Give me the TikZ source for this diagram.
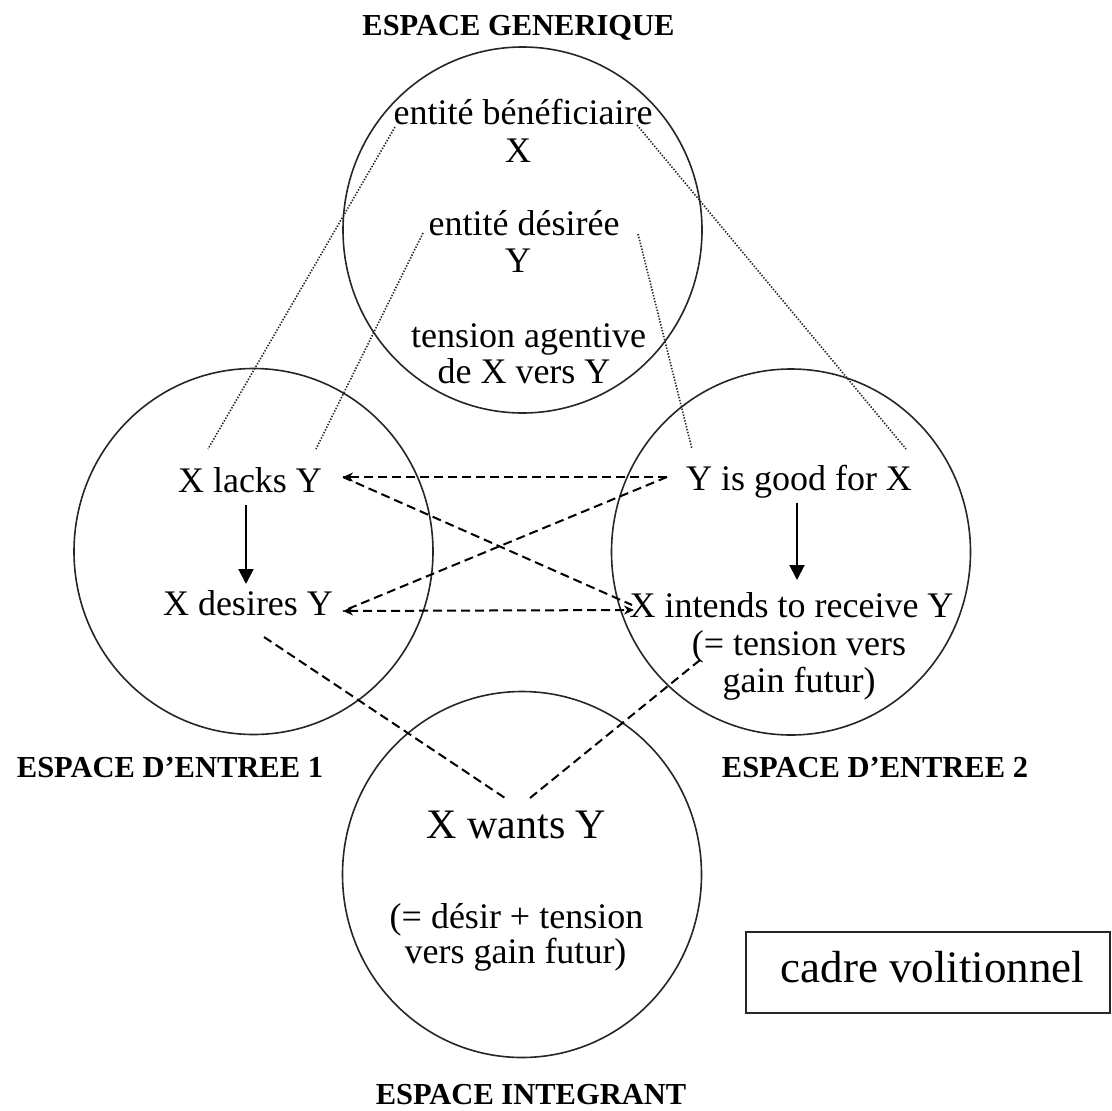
\documentclass[tikz,border=0pt]{standalone}
\usepackage{fontspec}
\setmainfont{Liberation Serif}
\usetikzlibrary{arrows.meta,shapes.geometric}
\begin{document}
\begin{tikzpicture}[x=1pt,y=-1pt,
  space/.style={draw=black!85,line width=1.6pt,ellipse,minimum width=359pt,minimum height=366pt,inner sep=0pt},
  lbl/.style={anchor=base,inner sep=0pt,font=\fontsize{36}{43}\selectfont},
  big/.style={anchor=base,inner sep=0pt,font=\fontsize{42}{50}\selectfont},
  ttl/.style={anchor=base,inner sep=0pt,font=\fontsize{30.5}{36}\selectfont\bfseries},
  dotl/.style={line width=1.6pt,dash pattern=on 1.4pt off 1.6pt,draw=black!85},
  dashl/.style={line width=2pt,dash pattern=on 9pt off 5pt},
  dtip/.style={-{Stealth[length=10pt,width=9pt]}},
  dtips/.style={{Stealth[length=10pt,width=9pt]}-{Stealth[length=10pt,width=9pt]}},
  solidarrow/.style={line width=2pt,-{Triangle[length=15pt,width=15pt]}}
]
\useasboundingbox (0,0) rectangle (1112,1111);

% spaces
\node[space] (gen) at (522.5,230) {};
\node[space] (in1) at (253.5,551.5) {};
\node[space] (in2) at (791,552) {};
\node[space] (blend) at (522,874.5) {};

% titles
\node[ttl] (tgen) at (518.5,35) {ESPACE GENERIQUE};
\node[ttl] (tin1) at (170,777) {ESPACE D’ENTREE 1};
\node[ttl] (tin2) at (875,777) {ESPACE D’ENTREE 2};
\node[ttl] (tbl) at (531,1104) {ESPACE INTEGRANT};

% generic space texts
\node[lbl] (benef) at (523,124) {entité bénéficiaire};
\node[lbl] (benefX) at (518,162) {X};
\node[lbl] (desir) at (524,235) {entité désirée};
\node[lbl] (desirY) at (518,272) {Y};
\node[lbl] (tens1) at (528.5,347) {tension agentive};
\node[lbl] (tens2) at (524,383) {de X vers Y};

% input 1
\node[lbl] (lacks) at (250,492) {X lacks Y};
\node[lbl] (desires) at (248,615) {X desires Y};

% input 2
\node[lbl] (good) at (799,490) {Y is good for X};
\node[lbl] (intends) at (791.5,617) {X intends to receive Y};
\node[lbl] (tv1) at (799,655) {(= tension vers};
\node[lbl] (tv2) at (799,692) {gain futur)};

% blend
\node[big] (wants) at (516.5,838) {X wants Y};
\node[lbl] (dt1) at (516.5,928) {(= désir + tension};
\node[lbl] (dt2) at (515.5,963) {vers gain futur)};

% frame box
\node[draw=black!85,line width=1.6pt,minimum width=364pt,minimum height=81pt,inner sep=0pt] (cadrebox) at (928,972.5) {};
\node[anchor=base,inner sep=0pt,font=\fontsize{45}{54}\selectfont] (cadre) at (932.5,982) {cadre volitionnel};

% connector end points
\coordinate (benefL) at (395,127);
\coordinate (benefR) at (637,125);
\coordinate (desirL) at (423,233);
\coordinate (desirR) at (638,234);
\coordinate (lacksTL) at (208,449);
\coordinate (lacksTR) at (316,449);
\coordinate (goodTL) at (692,449);
\coordinate (goodTR) at (906,449);
\coordinate (lacksR) at (343,477);
\coordinate (goodL) at (667,477);
\coordinate (desR) at (343,611);
\coordinate (intL) at (634,610);
\coordinate (intLd) at (632,605);
\coordinate (desB) at (264,637);
\coordinate (wantsL) at (505,798);
\coordinate (wantsR) at (530,798);
\coordinate (tvB) at (700,660);
\coordinate (a1s) at (246,505);
\coordinate (a1e) at (246,584);
\coordinate (a2s) at (797,503);
\coordinate (a2e) at (797,580);

% dotted mappings from generic space
\draw[dotl] (benefL) -- (lacksTL);
\draw[dotl] (desirL) -- (lacksTR);
\draw[dotl] (desirR) -- (goodTL);
\draw[dotl] (benefR) -- (goodTR);

% cross-space mappings
\draw[dashl,dtip] (goodL) -- (lacksR);
\draw[dashl] (lacksR) -- (intLd);
\draw[dashl] (goodL) -- (desR);
\draw[dashl,dtips] (desR) -- (intL);

% projections to blend
\draw[dashl] (desB) -- (wantsL);
\draw[dashl] (wantsR) -- (tvB);

% inner arrows
\draw[solidarrow] (a1s) -- (a1e);
\draw[solidarrow] (a2s) -- (a2e);
\end{tikzpicture}
\end{document}
